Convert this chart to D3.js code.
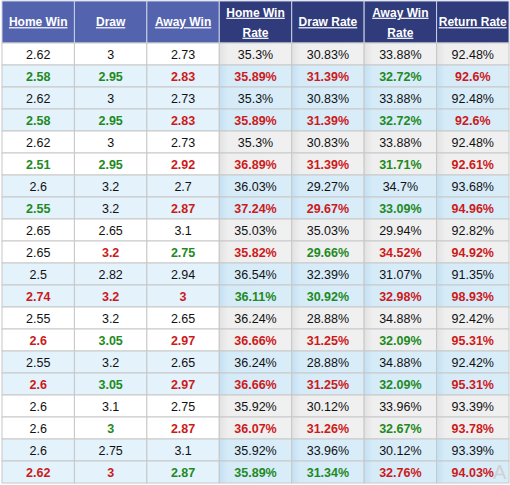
<!DOCTYPE html>
<html><head><meta charset="utf-8">
<script src="https://cdn.jsdelivr.net/npm/d3@7"></script>
<style>body{margin:0;background:#fff;}svg{display:block;font-family:Arial,"Liberation Sans",sans-serif;}</style>
</head><body>
<svg id="c" width="510" height="485"></svg>
<script>
const headers = [["Home Win"],["Draw"],["Away Win"],["Home Win","Rate"],["Draw Rate"],["Away Win","Rate"],["Return Rate"]];
const homeWin = ["2.62","2.58","2.62","2.58","2.62","2.51","2.6","2.55","2.65","2.65","2.5","2.74","2.55","2.6","2.55","2.6","2.6","2.6","2.6","2.62"];
const draw    = ["3","2.95","3","2.95","3","2.95","3.2","3.2","2.65","3.2","2.82","3.2","3.2","3.05","3.2","3.05","3.1","3","2.75","3"];
const awayWin = ["2.73","2.83","2.73","2.83","2.73","2.92","2.7","2.87","3.1","2.75","2.94","3","2.65","2.97","2.65","2.97","2.75","2.87","3.1","2.87"];
const homeRate = ["35.3%","35.89%","35.3%","35.89%","35.3%","36.89%","36.03%","37.24%","35.03%","35.82%","36.54%","36.11%","36.24%","36.66%","36.24%","36.66%","35.92%","36.07%","35.92%","35.89%"];
const drawRate = ["30.83%","31.39%","30.83%","31.39%","30.83%","31.39%","29.27%","29.67%","35.03%","29.66%","32.39%","30.92%","28.88%","31.25%","28.88%","31.25%","30.12%","31.26%","33.96%","31.34%"];
const awayRate = ["33.88%","32.72%","33.88%","32.72%","33.88%","31.71%","34.7%","33.09%","29.94%","34.52%","31.07%","32.98%","34.88%","32.09%","34.88%","32.09%","33.96%","32.67%","30.12%","32.76%"];
const returnRate = ["92.48%","92.6%","92.48%","92.6%","92.48%","92.61%","93.68%","94.96%","92.82%","94.92%","91.35%","98.93%","92.42%","95.31%","92.42%","95.31%","93.39%","93.78%","93.39%","94.03%"];
// cell highlight: n = plain, g = better (green), r = worse (red)
const marks = ["nnnnnnn","ggrrrgr","nnnnnnn","ggrrrgr","nnnnnnn","ggrrrgr","nnnnnnn","gnrrrgr","nnnnnnn","nrgrgrr","nnnnnnn","rrrggrr","nnnnnnn","rgrrrgr","nnnnnnn","rgrrrgr","nnnnnnn","ngrrrgr","nnnnnnn","rrgggrr"];
// row shading group: 1 = blue band, 0 = white band
const band = [0,1,1,1,0,0,1,1,0,0,1,1,0,0,1,1,0,0,1,1];

const cols = [homeWin, draw, awayWin, homeRate, drawRate, awayRate, returnRate];
const svg = d3.select("#c");
const x = d3.scaleBand().domain(d3.range(7)).range([2, 509]);
const y = d3.scaleBand().domain(d3.range(homeWin.length)).range([43, 483]);
const hdrTop = 1, hdrBot = 43;

const defs = svg.append("defs");
const gb = defs.append("linearGradient").attr("id","gblue");
gb.append("stop").attr("offset","0%").attr("stop-color","#c3e0f3");
gb.append("stop").attr("offset","12%").attr("stop-color","#d6ebf8");
gb.append("stop").attr("offset","100%").attr("stop-color","#d9edf9");
const gg = defs.append("linearGradient").attr("id","ggray");
gg.append("stop").attr("offset","0%").attr("stop-color","#e2e2e2");
gg.append("stop").attr("offset","12%").attr("stop-color","#efefef");
gg.append("stop").attr("offset","100%").attr("stop-color","#f0f0f0");

// header
const hg = svg.append("g");
hg.selectAll("rect").data(headers).join("rect")
  .attr("x",(d,i)=>x(i)).attr("y",hdrTop).attr("width",x.bandwidth()).attr("height",hdrBot-hdrTop)
  .attr("fill",(d,i)=> i<3 ? "#5463ae" : "#2f3b7b")
  .attr("stroke","#c9cfe6").attr("stroke-width",1);
headers.forEach((h,i)=>{
  const cx = x(i)+x.bandwidth()/2;
  const lines = h.length===1 ? [22] : [12.5,32.5];
  h.forEach((t,k)=>{
    hg.append("text").attr("x",cx).attr("y",lines[k]).attr("dy","0.35em")
      .attr("text-anchor","middle").attr("fill","#fff").attr("font-weight","bold")
      .attr("font-size","12px").attr("text-decoration","underline").text(t);
  });
});

// body
const colorMap = {n:"#111", g:"#1e8a1e", r:"#cc1a1a"};
const rows = svg.append("g");
homeWin.forEach((_,r)=>{
  cols.forEach((col,c)=>{
    const blue = band[r]===1;
    const fill = c<3 ? (blue ? "#e4f2fb" : "#ffffff") : (blue ? "url(#gblue)" : "url(#ggray)");
    rows.append("rect").attr("x",x(c)).attr("y",y(r)).attr("width",x.bandwidth()).attr("height",y.bandwidth())
      .attr("fill",fill).attr("stroke","#c8c8c8").attr("stroke-width",1);
    const m = marks[r][c];
    rows.append("text").attr("x",x(c)+x.bandwidth()/2).attr("y",y(r)+y.bandwidth()/2).attr("dy","0.36em")
      .attr("text-anchor","middle").attr("font-size","12.5px")
      .attr("font-weight", m==="n" ? "normal" : "bold")
      .attr("fill",colorMap[m]).text(col[r]);
  });
});

// faint watermark glyph at bottom right
svg.append("text").attr("x",493).attr("y",479).attr("font-size","20px").attr("fill","#cccccc").attr("opacity",0.8).text("A");
</script>
</body></html>
